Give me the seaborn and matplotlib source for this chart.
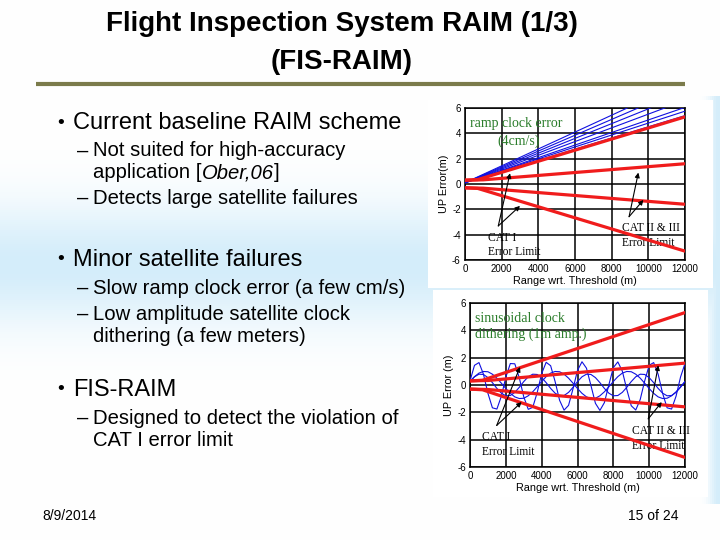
import numpy as np
import pandas as pd
import matplotlib
matplotlib.use("Agg")
import matplotlib.pyplot as plt
from matplotlib.patches import Rectangle
import seaborn as sns

sns.set_style("white")
plt.rcParams['font.family'] = ['Liberation Sans', 'DejaVu Sans']
plt.rcParams['axes.unicode_minus'] = False
plt.rcParams['text.color'] = 'black'
plt.rcParams['axes.labelcolor'] = 'black'
plt.rcParams['xtick.color'] = 'black'
plt.rcParams['ytick.color'] = 'black'

# ---- data ----
x_ticks = [0, 2000, 4000, 6000, 8000, 10000, 12000]
y_ticks = [-6, -4, -2, 0, 2, 4, 6]

# error limits (same in both plots)
cat1_x = [0, 700, 12000]
cat1_up = [0.3, 0.35, 5.3]
cat1_lo = [-0.3, -0.35, -5.3]
cat23_x = [0, 1000, 12000]
cat23_up = [0.3, 0.33, 1.6]
cat23_lo = [-0.3, -0.33, -1.6]

# ramp clock error, UP error at start / end of range
ramp_x = [0, 12000]
ramp_start = [0.1, 0.1, 0.1, 0.1, 0.1, 0.1, 0.1]
ramp_end = [5.4, 5.75, 6.05, 6.6, 7.1, 7.6, 8.1]

# sinusoidal clock dithering, UP error every 250 m
dither_x = list(range(0, 12001, 250))
dither_a = [0.30, 1.44, 1.64, 0.79, -0.61, -1.67, -1.76, -0.82,
            0.58, 1.57, 1.55, 0.53, -0.87, -1.78, -1.64, -0.55,
            0.84, 1.66, 1.41, 0.25, -1.12, -1.84, -1.49, -0.27,
            1.07, 1.70, 1.23, -0.04, -1.34, -1.86, -1.29, 0.02,
            1.27, 1.69, 1.02, -0.32, -1.52, -1.83, -1.06, 0.30,
            1.44, 1.64, 0.79, -0.61, -1.67, -1.76, -0.82, 0.58,
            1.57]
dither_b = [0.26, 0.61, 0.87, 0.99, 0.97, 0.79, 0.50, 0.13,
            -0.26, -0.61, -0.87, -0.99, -0.97, -0.79, -0.50, -0.13,
            0.26, 0.61, 0.87, 0.99, 0.97, 0.79, 0.50, 0.13,
            -0.26, -0.61, -0.87, -0.99, -0.97, -0.79, -0.50, -0.13,
            0.26, 0.61, 0.87, 0.99, 0.97, 0.79, 0.50, 0.13,
            -0.26, -0.61, -0.87, -0.99, -0.97, -0.79, -0.50, -0.13,
            0.26]
dither_c = [0.25, 0.60, 0.79, 0.77, 0.54, 0.17, -0.25, -0.60, -0.79, -0.77, -0.54, -0.17,
            0.25, 0.60, 0.79, 0.77, 0.54, 0.17, -0.25, -0.60, -0.79, -0.77, -0.54, -0.17,
            0.25, 0.60, 0.79, 0.77, 0.54, 0.17, -0.25, -0.60, -0.79, -0.77, -0.54, -0.17,
            0.25, 0.60, 0.79, 0.77, 0.54, 0.17, -0.25, -0.60, -0.79, -0.77, -0.54, -0.17,
            0.25]

RED = '#f01c1c'
BLUE = '#1010e0'
GREEN = '#2b7d2b'
SERIF = ['Liberation Serif', 'DejaVu Serif']

fig = plt.figure(figsize=(7.2, 5.4), dpi=100)

# slide background in pixel coordinates
bg = fig.add_axes([0, 0, 1, 1], zorder=-10)
yy = np.linspace(0, 540, 270)[:, None]
xx = np.linspace(0, 720, 360)[None, :]
band = np.exp(-((yy - 265) / 60) ** 2) + 0 * xx
edge = np.exp(-((720 - xx) / 10) ** 2) * ((yy > 95) & (yy < 505))
w = np.clip(np.maximum(band, edge), 0, 1)
light = np.array([212, 237, 250]) / 255
img = 1 - w[..., None] * (1 - light)
bg.imshow(img, extent=[0, 720, 540, 0], aspect='auto')
bg.set_xlim(0, 720)
bg.set_ylim(540, 0)
bg.axis('off')
bg.add_patch(Rectangle((428, 100), 285, 188, color='white', lw=0))
bg.add_patch(Rectangle((433, 290), 275, 207, color='white', lw=0))
bg.plot([36, 685], [84, 84], color='#7b7b4b', lw=3, solid_capstyle='butt')

title_font = ['Liberation Sans Narrow', 'Liberation Sans', 'DejaVu Sans']
bg.text(342, 24, 'Flight Inspection System RAIM (1/3)', ha='center', va='center',
        fontsize=20, fontweight='bold', family=title_font)
bg.text(342, 62, '(FIS-RAIM)', ha='center', va='center',
        fontsize=20, fontweight='bold', family=title_font)

L1, L2 = 17, 14.6
bullets = [
    (1, 123, 'Current baseline RAIM scheme'),
    (2, 151, 'Not suited for high-accuracy'),
    (0, 173, 'application ['),
    (2, 198, 'Detects large satellite failures'),
    (1, 260, 'Minor satellite failures'),
    (2, 288, 'Slow ramp clock error (a few cm/s)'),
    (2, 314, 'Low amplitude satellite clock'),
    (0, 336, 'dithering (a few meters)'),
    (1, 390, 'FIS-RAIM'),
    (2, 418, 'Designed to detect the violation of'),
    (0, 440, 'CAT I error limit'),
]
for lvl, y, s in bullets:
    if lvl == 1:
        bg.text(57, y, '\u2022', ha='left', va='center', fontsize=L1 - 3)
        bg.text(73, y, s, ha='left', va='center', fontsize=L1)
    else:
        if lvl == 2:
            bg.text(77, y, '\u2013', ha='left', va='center', fontsize=L2)
        t = bg.text(93, y, s, ha='left', va='center', fontsize=L2)
        if s == 'application [':
            t2 = bg.annotate('Ober,06', xy=(1, 0), xycoords=t, ha='left', va='bottom',
                             fontsize=L2, style='italic')
            bg.annotate(']', xy=(1, 0), xycoords=t2, ha='left', va='bottom', fontsize=L2)

bg.text(42, 516, '8/9/2014', ha='left', va='center', fontsize=10, family=title_font)
bg.text(678, 516, '15 of 24', ha='right', va='center', fontsize=10, family=title_font)


def style_axes(ax, ylabel):
    ax.set_xlim(0, 12000)
    ax.set_ylim(-6, 6)
    ax.set_xticks(x_ticks)
    ax.set_yticks(y_ticks)
    ax.grid(True, color='black', lw=1.1)
    ax.set_axisbelow(True)
    for sp in ax.spines.values():
        sp.set_color('black')
        sp.set_linewidth(1.1)
    ax.tick_params(length=0, labelsize=7, pad=3)
    ax.set_xlabel('Range wrt. Threshold (m)', fontsize=7.8, labelpad=1)
    ax.set_ylabel(ylabel, fontsize=7.8, labelpad=2)


def draw_limits(ax):
    for xv, yv in [(cat1_x, cat1_up), (cat1_x, cat1_lo), (cat23_x, cat23_up), (cat23_x, cat23_lo)]:
        sns.lineplot(x=xv, y=yv, ax=ax, color=RED, lw=2.3, zorder=4)


def arrow(ax, tail, head):
    ax.annotate('', xy=head, xytext=tail,
                arrowprops=dict(arrowstyle='-|>', color='black', lw=0.8,
                                mutation_scale=7, shrinkA=0, shrinkB=0), zorder=6)


# ---- top: ramp clock error ----
ax1 = fig.add_axes([0.6458, 0.5185, 0.3056, 0.2815])
ramp_df = pd.DataFrame({
    'range': ramp_x * len(ramp_end),
    'err': [v for s, e in zip(ramp_start, ramp_end) for v in (s, e)],
    'sat': [i for i in range(len(ramp_end)) for _ in ramp_x],
})
sns.lineplot(data=ramp_df, x='range', y='err', units='sat', estimator=None,
             color=BLUE, lw=0.8, ax=ax1, zorder=3)
draw_limits(ax1)
style_axes(ax1, 'UP Error(m)')
ax1.text(270, 4.74, 'ramp clock error', color=GREEN, fontsize=10, family=SERIF, va='center')
ax1.text(1750, 3.34, '(4cm/s)', color=GREEN, fontsize=10, family=SERIF, va='center')
ax1.text(1250, -4.26, 'CAT I', fontsize=8.3, family=SERIF, va='center')
ax1.text(1250, -5.4, 'Error Limit', fontsize=8.3, family=SERIF, va='center')
ax1.text(8560, -3.45, 'CAT II & III', fontsize=8.3, family=SERIF, va='center')
ax1.text(8560, -4.63, 'Error Limit', fontsize=8.3, family=SERIF, va='center')
arrow(ax1, (1817, -3.31), (2455, 0.85))
arrow(ax1, (1817, -3.31), (3000, -1.73))
arrow(ax1, (8950, -2.58), (9455, 0.9))
arrow(ax1, (8950, -2.58), (9730, -1.26))

# ---- bottom: sinusoidal clock dithering ----
ax2 = fig.add_axes([0.6528, 0.1352, 0.2986, 0.3037])
for dy in (dither_a, dither_b, dither_c):
    sns.lineplot(x=dither_x, y=dy, ax=ax2, color=BLUE, lw=0.8, zorder=3)
draw_limits(ax2)
style_axes(ax2, 'UP Error (m)')
ax2.text(280, 4.87, 'sinusoidal clock', color=GREEN, fontsize=10, family=SERIF, va='center')
ax2.text(280, 3.72, 'dithering (1m amp.)', color=GREEN, fontsize=10, family=SERIF, va='center')
ax2.text(650, -3.82, 'CAT I', fontsize=8.3, family=SERIF, va='center')
ax2.text(650, -4.92, 'Error Limit', fontsize=8.3, family=SERIF, va='center')
ax2.text(9020, -3.33, 'CAT II & III', fontsize=8.3, family=SERIF, va='center')
ax2.text(9020, -4.43, 'Error Limit', fontsize=8.3, family=SERIF, va='center')
arrow(ax2, (1490, -2.96), (2790, 1.32))
arrow(ax2, (1490, -2.96), (2880, -1.25))
arrow(ax2, (9950, -2.48), (10510, 1.44))
arrow(ax2, (9950, -2.48), (10700, -1.25))

fig.savefig('out.png', dpi=100)
